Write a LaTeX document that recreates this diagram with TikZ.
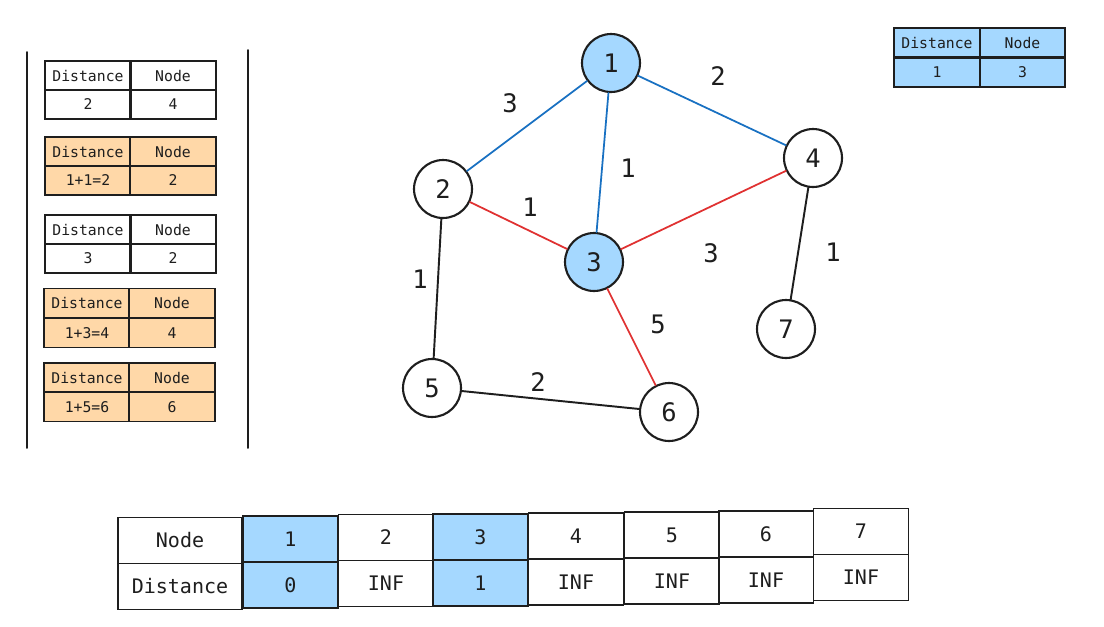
\documentclass[tikz,border=0pt]{standalone}
\usepackage{fontspec}
\setmonofont{DejaVu Sans Mono}
\usepackage{xcolor}
\usepackage{tikz}
\definecolor{ink}{HTML}{1E1E1E}
\definecolor{blueln}{HTML}{1971C2}
\definecolor{redln}{HTML}{E03131}
\definecolor{seen}{HTML}{A5D8FF}
\definecolor{cand}{HTML}{FFD8A8}
\newcommand\graphfont{\ttfamily\fontsize{14.5}{16}\selectfont}
\newcommand\cellfont{\ttfamily\fontsize{8.4}{10}\selectfont}
\newcommand\bigcellfont{\ttfamily\fontsize{11.4}{13}\selectfont}
\tikzset{
  base/.style={draw=ink, line width=1.1pt, line cap=round, line join=round},
  done/.style={draw=blueln, line width=1pt, line cap=round},
  relax/.style={draw=redln, line width=1pt, line cap=round},
  vert/.style={circle, draw=ink, line width=1.2pt, minimum size=1.16cm, inner sep=0pt, text=ink, font=\graphfont},
  wt/.style={text=ink, font=\graphfont},
  cell/.style={draw=ink, line width=1.1pt, minimum width=1.71cm, minimum height=0.58cm, inner sep=0pt, text=ink, font=\cellfont},
  bigcell/.style={cell, minimum width=1.9cm, minimum height=0.92cm, font=\bigcellfont}
}
\begin{document}
\begin{tikzpicture}[x=0.02cm, y=-0.02cm]
  \useasboundingbox[fill=white] (0,0) rectangle (1104,626);

  % candidate stack
  \coordinate (sl1) at (27,52);  \coordinate (sl2) at (27,448);
  \coordinate (sr1) at (248,50); \coordinate (sr2) at (248,448);
  \draw[base] (sl1) -- (sl2);
  \draw[base] (sr1) -- (sr2);

  \node[cell] (s1d) at (88,75.5) {Distance};
  \node[cell] (s1n) at (173,75.5) {Node};
  \node[cell] (s1dv) at (88,104.5) {2};
  \node[cell] (s1nv) at (173,104.5) {4};

  \node[cell, fill=cand] (s2d) at (88,151.5) {Distance};
  \node[cell, fill=cand] (s2n) at (173,151.5) {Node};
  \node[cell, fill=cand] (s2dv) at (88,180.5) {1+1=2};
  \node[cell, fill=cand] (s2nv) at (173,180.5) {2};

  \node[cell] (s3d) at (88,229.5) {Distance};
  \node[cell] (s3n) at (173,229.5) {Node};
  \node[cell] (s3dv) at (88,258.5) {3};
  \node[cell] (s3nv) at (173,258.5) {2};

  \node[cell, fill=cand] (s4d) at (87,303) {Distance};
  \node[cell, fill=cand] (s4n) at (172,303) {Node};
  \node[cell, fill=cand] (s4dv) at (87,333) {1+3=4};
  \node[cell, fill=cand] (s4nv) at (172,333) {4};

  \node[cell, fill=cand] (s5d) at (87,377.5) {Distance};
  \node[cell, fill=cand] (s5n) at (172,377.5) {Node};
  \node[cell, fill=cand] (s5dv) at (87,407) {1+5=6};
  \node[cell, fill=cand] (s5nv) at (172,407) {6};

  % current pick
  \node[cell, fill=seen] (pd) at (937,42.5) {Distance};
  \node[cell, fill=seen] (pn) at (1022.5,42.5) {Node};
  \node[cell, fill=seen] (pdv) at (937,72.5) {1};
  \node[cell, fill=seen] (pnv) at (1022.5,72.5) {3};

  % graph
  \node[vert, fill=seen] (n1) at (611,63) {1};
  \node[vert] (n2) at (443,189) {2};
  \node[vert, fill=seen] (n3) at (594,262) {3};
  \node[vert] (n4) at (813,158) {4};
  \node[vert] (n5) at (432,388) {5};
  \node[vert] (n6) at (669,412) {6};
  \node[vert] (n7) at (786,329) {7};

  \draw[done] (n1) -- (n2);
  \draw[done] (n1) -- (n3);
  \draw[done] (n1) -- (n4);
  \draw[relax] (n2) -- (n3);
  \draw[relax] (n3) -- (n4);
  \draw[relax] (n3) -- (n6);
  \draw[base] (n2) -- (n5);
  \draw[base] (n5) -- (n6);
  \draw[base] (n4) -- (n7);

  \node[wt] (w12) at (510,103) {3};
  \node[wt] (w14) at (718,76) {2};
  \node[wt] (w13) at (628,168) {1};
  \node[wt] (w23) at (530,207) {1};
  \node[wt] (w34) at (711,253) {3};
  \node[wt] (w47) at (833,252) {1};
  \node[wt] (w25) at (420,279) {1};
  \node[wt] (w36) at (658,324) {5};
  \node[wt] (w56) at (538,382) {2};

  % distance table
  \node[bigcell, minimum width=2.48cm] (tn) at (180,540.5) {Node};
  \node[bigcell, minimum width=2.48cm] (td) at (180,586.5) {Distance};
  \node[bigcell, fill=seen] (tn1) at (290.5,539) {1};
  \node[bigcell, fill=seen] (td1) at (290.5,585) {0};
  \node[bigcell] (tn2) at (386,537.5) {2};
  \node[bigcell] (td2) at (386,583.5) {INF};
  \node[bigcell, fill=seen] (tn3) at (480.5,537) {3};
  \node[bigcell, fill=seen] (td3) at (480.5,583) {1};
  \node[bigcell] (tn4) at (576,536) {4};
  \node[bigcell] (td4) at (576,582) {INF};
  \node[bigcell] (tn5) at (672,535) {5};
  \node[bigcell] (td5) at (672,581) {INF};
  \node[bigcell] (tn6) at (766,534) {6};
  \node[bigcell] (td6) at (766,580) {INF};
  \node[bigcell] (tn7) at (861,531.5) {7};
  \node[bigcell] (td7) at (861,577.5) {INF};
\end{tikzpicture}
\end{document}
